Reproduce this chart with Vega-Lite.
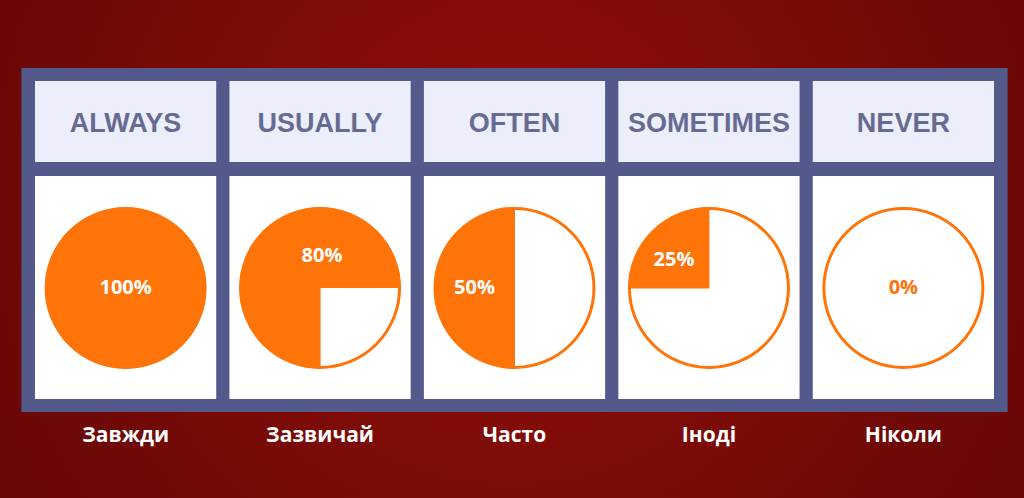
{
  "$schema": "https://vega.github.io/schema/vega-lite/v6.json",
  "description": "Adverbs of frequency: always, usually, often, sometimes, never.",
  "width": 1024,
  "height": 498,
  "padding": 0,
  "autosize": "none",
  "datasets": {
    "words": [
      {"freq": "ALWAYS", "pct": "100%", "ua": "Завжди"},
      {"freq": "USUALLY", "pct": "80%", "ua": "Зазвичай"},
      {"freq": "OFTEN", "pct": "50%", "ua": "Часто"},
      {"freq": "SOMETIMES", "pct": "25%", "ua": "Іноді"},
      {"freq": "NEVER", "pct": "0%", "ua": "Ніколи"}
    ],
    "quarters": [
      {"freq": "ALWAYS", "q": 1, "share": 0.25, "state": "filled"},
      {"freq": "ALWAYS", "q": 2, "share": 0.25, "state": "filled"},
      {"freq": "ALWAYS", "q": 3, "share": 0.25, "state": "filled"},
      {"freq": "ALWAYS", "q": 4, "share": 0.25, "state": "filled"},
      {"freq": "USUALLY", "q": 1, "share": 0.25, "state": "filled"},
      {"freq": "USUALLY", "q": 2, "share": 0.25, "state": "empty"},
      {"freq": "USUALLY", "q": 3, "share": 0.25, "state": "filled"},
      {"freq": "USUALLY", "q": 4, "share": 0.25, "state": "filled"},
      {"freq": "OFTEN", "q": 1, "share": 0.25, "state": "empty"},
      {"freq": "OFTEN", "q": 2, "share": 0.25, "state": "empty"},
      {"freq": "OFTEN", "q": 3, "share": 0.25, "state": "filled"},
      {"freq": "OFTEN", "q": 4, "share": 0.25, "state": "filled"},
      {"freq": "SOMETIMES", "q": 1, "share": 0.25, "state": "empty"},
      {"freq": "SOMETIMES", "q": 2, "share": 0.25, "state": "empty"},
      {"freq": "SOMETIMES", "q": 3, "share": 0.25, "state": "empty"},
      {"freq": "SOMETIMES", "q": 4, "share": 0.25, "state": "filled"},
      {"freq": "NEVER", "q": 1, "share": 0.25, "state": "empty"},
      {"freq": "NEVER", "q": 2, "share": 0.25, "state": "empty"},
      {"freq": "NEVER", "q": 3, "share": 0.25, "state": "empty"},
      {"freq": "NEVER", "q": 4, "share": 0.25, "state": "empty"}
    ]
  },
  "data": {"name": "words"},
  "layer": [
    {
      "mark": {"type": "bar", "color": "#535a8b", "width": {"band": 1.15}},
      "encoding": {
        "x": {
          "field": "freq",
          "type": "nominal",
          "scale": {
            "type": "band",
            "domain": ["ALWAYS", "USUALLY", "OFTEN", "SOMETIMES", "NEVER"],
            "range": [35, 994],
            "paddingInner": 0.068,
            "paddingOuter": 0
          }
        },
        "y": {
          "datum": 68,
          "type": "quantitative",
          "scale": {"type": "linear", "domain": [0, 498], "reverse": true, "nice": false, "zero": false}
        },
        "y2": {"datum": 412}
      }
    },
    {
      "mark": {"type": "bar", "color": "#eceefb"},
      "encoding": {
        "x": {"field": "freq", "type": "nominal"},
        "y": {"datum": 81, "type": "quantitative"},
        "y2": {"datum": 162}
      }
    },
    {
      "mark": {"type": "bar", "color": "#ffffff"},
      "encoding": {
        "x": {"field": "freq", "type": "nominal"},
        "y": {"datum": 176, "type": "quantitative"},
        "y2": {"datum": 399}
      }
    },
    {
      "mark": {"type": "text", "font": "Liberation Sans", "fontWeight": "bold", "fontSize": 27, "color": "#676b92", "baseline": "middle"},
      "encoding": {
        "x": {"field": "freq", "type": "nominal"},
        "y": {"datum": 124, "type": "quantitative"},
        "text": {"field": "freq"}
      }
    },
    {
      "data": {"name": "quarters"},
      "transform": [
        {"stack": "share", "groupby": ["freq"], "sort": [{"field": "q"}], "as": ["t0", "t1"]}
      ],
      "mark": {"type": "arc", "radius": 80, "strokeWidth": 1},
      "encoding": {
        "x": {"field": "freq", "type": "nominal"},
        "y": {"datum": 288, "type": "quantitative"},
        "theta": {"field": "t0", "type": "quantitative", "scale": {"domain": [0, 1], "range": [0, 6.2832]}},
        "theta2": {"field": "t1"},
        "color": {
          "field": "state",
          "type": "nominal",
          "scale": {"domain": ["filled", "empty"], "range": ["#ff7409", "#ffffff"]},
          "legend": null
        },
        "stroke": {"condition": {"test": "datum.state === 'filled'", "value": "#ff7409"}, "value": null}
      }
    },
    {
      "mark": {"type": "point", "shape": "circle", "size": 25281, "filled": false, "stroke": "#ff7409", "strokeWidth": 3, "opacity": 1},
      "encoding": {
        "x": {"field": "freq", "type": "nominal"},
        "y": {"datum": 288, "type": "quantitative"}
      }
    },
    {
      "transform": [{"filter": {"field": "freq", "oneOf": ["ALWAYS", "NEVER"]}}],
      "mark": {"type": "text", "font": "Open Sans", "fontWeight": "bold", "fontSize": 20, "baseline": "middle"},
      "encoding": {
        "x": {"field": "freq", "type": "nominal"},
        "y": {"datum": 288, "type": "quantitative"},
        "text": {"field": "pct"},
        "color": {"condition": {"test": "datum.freq === 'NEVER'", "value": "#ff7409"}, "value": "#ffffff"}
      }
    },
    {
      "transform": [{"filter": {"field": "freq", "equal": "USUALLY"}}],
      "mark": {"type": "text", "font": "Open Sans", "fontWeight": "bold", "fontSize": 20, "baseline": "middle", "color": "#ffffff", "dx": 2, "dy": -32},
      "encoding": {
        "x": {"field": "freq", "type": "nominal"},
        "y": {"datum": 288, "type": "quantitative"},
        "text": {"field": "pct"}
      }
    },
    {
      "transform": [{"filter": {"field": "freq", "equal": "OFTEN"}}],
      "mark": {"type": "text", "font": "Open Sans", "fontWeight": "bold", "fontSize": 20, "baseline": "middle", "color": "#ffffff", "dx": -40},
      "encoding": {
        "x": {"field": "freq", "type": "nominal"},
        "y": {"datum": 288, "type": "quantitative"},
        "text": {"field": "pct"}
      }
    },
    {
      "transform": [{"filter": {"field": "freq", "equal": "SOMETIMES"}}],
      "mark": {"type": "text", "font": "Open Sans", "fontWeight": "bold", "fontSize": 20, "baseline": "middle", "color": "#ffffff", "dx": -35, "dy": -28},
      "encoding": {
        "x": {"field": "freq", "type": "nominal"},
        "y": {"datum": 288, "type": "quantitative"},
        "text": {"field": "pct"}
      }
    },
    {
      "mark": {"type": "text", "font": "Open Sans", "fontWeight": "bold", "fontSize": 21, "baseline": "middle", "color": "#ffffff"},
      "encoding": {
        "x": {"field": "freq", "type": "nominal"},
        "y": {"datum": 436, "type": "quantitative"},
        "text": {"field": "ua"}
      }
    }
  ],
  "config": {
    "axis": {"disable": true},
    "legend": {"disable": true},
    "view": {
      "stroke": null,
      "fill": {
        "gradient": "radial",
        "x1": 0.5, "y1": 0.45, "r1": 0,
        "x2": 0.5, "y2": 0.45, "r2": 0.7,
        "stops": [
          {"offset": 0, "color": "#930f0a"},
          {"offset": 1, "color": "#5c0605"}
        ]
      }
    }
  }
}
